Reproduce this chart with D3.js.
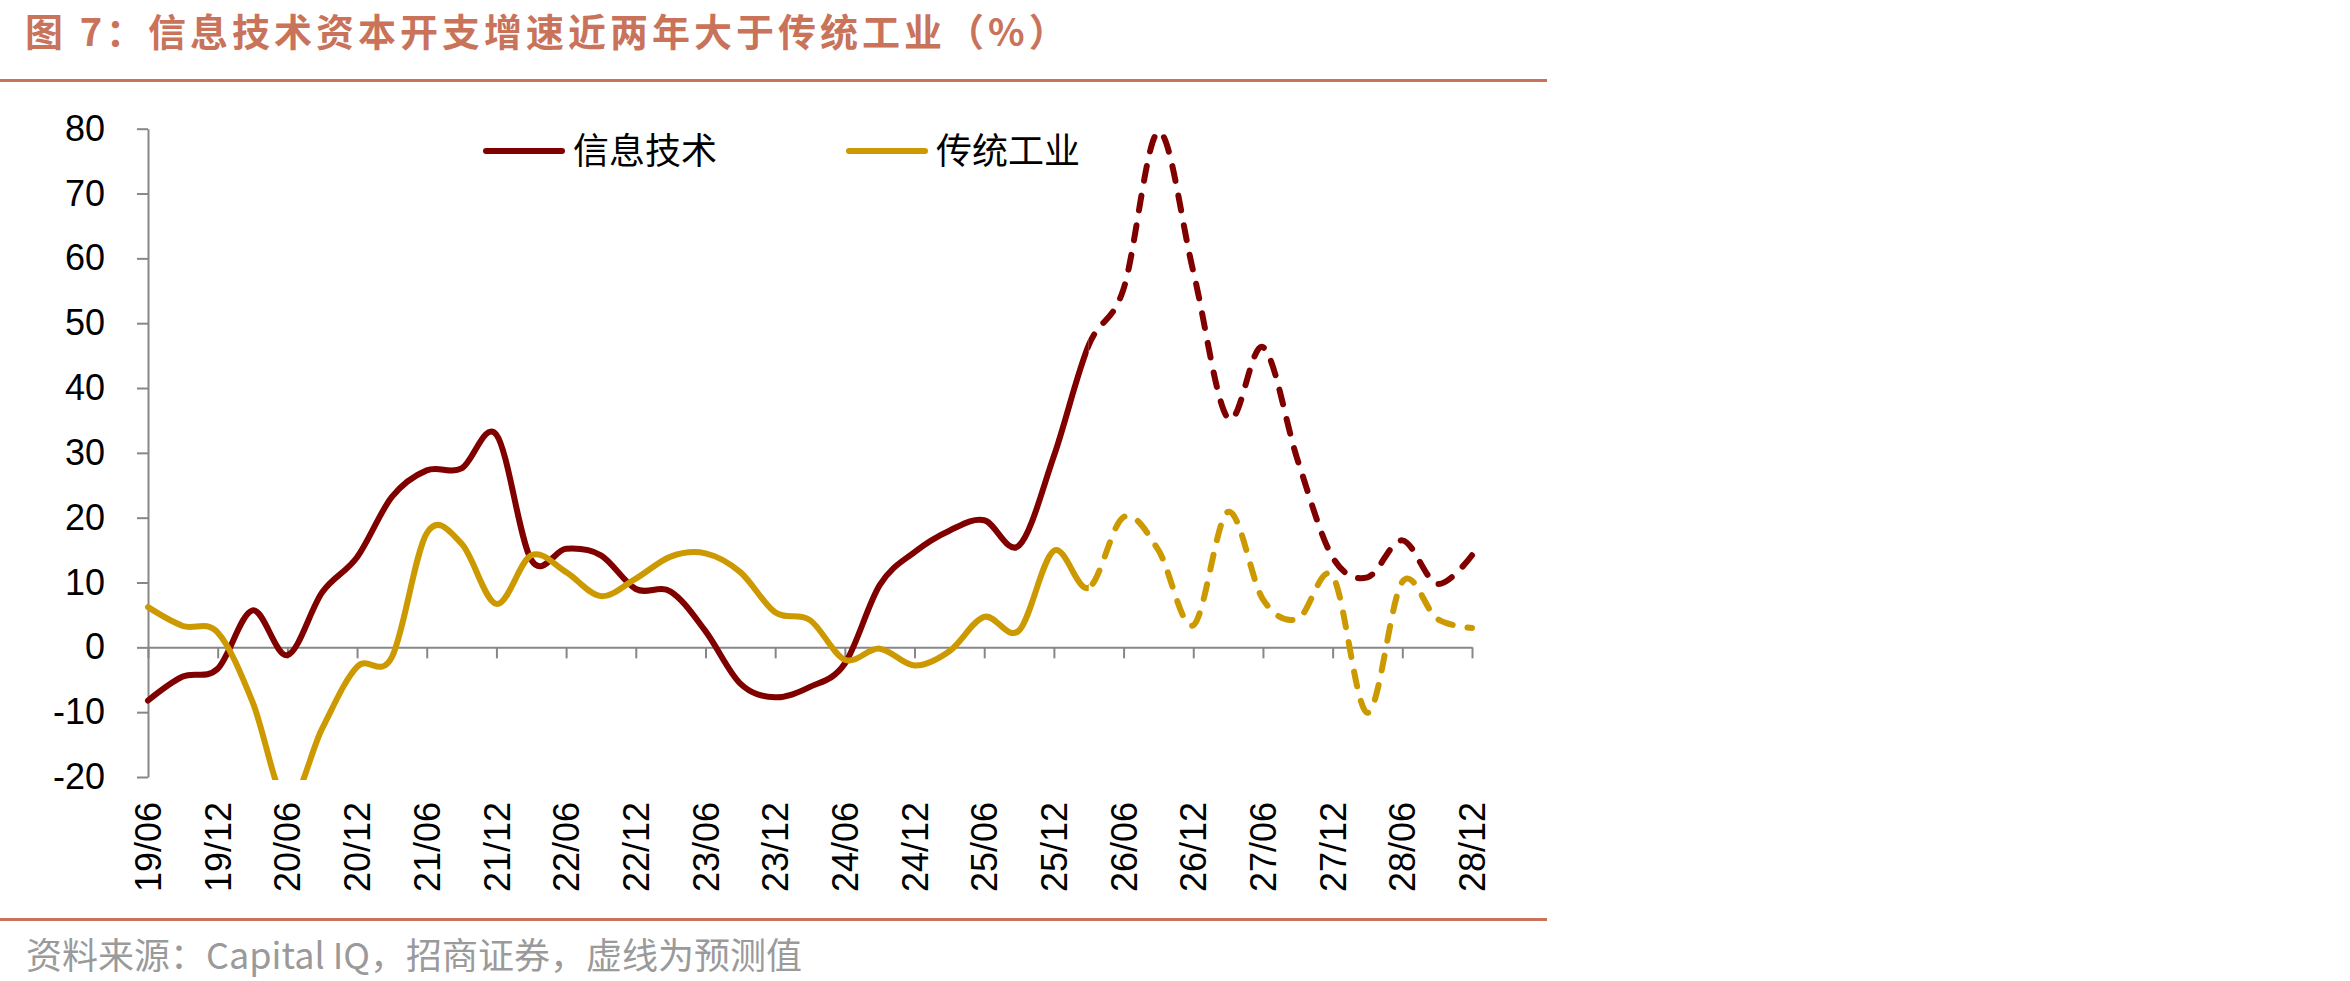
<!DOCTYPE html>
<html>
<head>
<meta charset="utf-8">
<script src="https://cdn.jsdelivr.net/npm/d3@7"></script>
<style>
  body { margin: 0; background: #fff; }
  svg { display: block; }
</style>
</head>
<body>
<div id="chart"></div>
<script>
const width = 2350;
const height = 981;

// quarterly points, 19/06 .. 28/12
const quarters = [
  "19/06","19/09","19/12","20/03","20/06","20/09","20/12","21/03","21/06","21/09",
  "21/12","22/03","22/06","22/09","22/12","23/03","23/06","23/09","23/12","24/03",
  "24/06","24/09","24/12","25/03","25/06","25/09","25/12","26/03","26/06","26/09",
  "26/12","27/03","27/06","27/09","27/12","28/03","28/06","28/09","28/12"
];

const itValues = [
  -8.2, -4.5, -3.3, 5.7, -1.2, 8.5, 13.9, 23.2, 27.3, 27.6,
  32.8, 13.5, 15.2, 14.2, 9.0, 8.6, 2.5, -5.6, -7.7, -6.1,
  -2.5, 9.6, 14.7, 18.0, 19.6, 15.7, 29.5, 46.6, 55.3, 79.5,
  58.0, 35.3, 46.3, 28.8, 13.9, 10.8, 16.5, 9.8, 14.2
];

const industryValues = [
  6.2, 3.3, 2.3, -8.4, -24.0, -12.5, -3.0, -1.5, 17.6, 16.0,
  6.7, 14.2, 11.6, 7.9, 10.6, 14.0, 14.5, 11.6, 5.4, 4.2,
  -1.9, -0.2, -2.8, -0.6, 4.7, 2.6, 14.9, 9.2, 20.1, 15.0,
  3.4, 20.9, 7.4, 4.4, 11.0, -10.1, 10.1, 4.4, 3.0
];

const seriesNames = ["信息技术", "传统工业"];
const forecastFrom = "26/03";   // dashed from here on
const yTicks = [-20, -10, 0, 10, 20, 30, 40, 50, 60, 70, 80];

const titleText = "图 7：信息技术资本开支增速近两年大于传统工业（%）";
const sourceText = "资料来源：Capital IQ，招商证券，虚线为预测值";

const series = [
  { name: seriesNames[0], values: itValues },
  { name: seriesNames[1], values: industryValues }
];

const color = d3.scaleOrdinal()
  .domain(seriesNames)
  .range(["#800000", "#CC9900"]);

const accent = "#C8735A";
const axisColor = "#878787";
const latinFont = "'Liberation Sans', Arial, sans-serif";
const cjkFont = "'Noto Sans CJK SC', sans-serif";

const svg = d3.select("#chart")
  .append("svg")
  .attr("width", width)
  .attr("height", height)
  .style("background", "#fff");

const x = d3.scalePoint()
  .domain(quarters)
  .range([148, 1472]);

const y = d3.scaleLinear()
  .domain([-20, 80])
  .range([777, 128.7]);

// title + rules
svg.append("text")
  .attr("x", 25)
  .attr("y", 46)
  .attr("fill", accent)
  .attr("font-family", cjkFont)
  .attr("font-weight", 700)
  .attr("font-size", 38)
  .attr("letter-spacing", 4)
  .text(titleText);

svg.append("rect")
  .attr("x", 0).attr("y", 79)
  .attr("width", 1547).attr("height", 3)
  .attr("fill", accent);

svg.append("rect")
  .attr("x", 0).attr("y", 918)
  .attr("width", 1547).attr("height", 3)
  .attr("fill", accent);

svg.append("text")
  .attr("x", 26)
  .attr("y", 969)
  .attr("fill", "#9a9a9a")
  .attr("font-family", cjkFont)
  .attr("font-size", 36)
  .text(sourceText);

// axes
const yAxis = d3.axisLeft(y)
  .tickValues(yTicks)
  .tickFormat(d => String(d))
  .tickSize(11)
  .tickSizeOuter(0)
  .tickPadding(32);

const yG = svg.append("g")
  .attr("transform", `translate(${x.range()[0]},0)`)
  .call(yAxis);

yG.selectAll("text")
  .attr("font-family", latinFont)
  .attr("font-size", 36)
  .attr("fill", "#000");

const xAxis = d3.axisBottom(x)
  .tickValues(quarters.filter(q => q.endsWith("/06") || q.endsWith("/12")))
  .tickSize(11)
  .tickSizeOuter(0);

const xG = svg.append("g")
  .attr("transform", `translate(0,${y(0)})`)
  .call(xAxis);

xG.selectAll("text")
  .attr("font-family", latinFont)
  .attr("font-size", 36)
  .attr("fill", "#000")
  .attr("text-anchor", "end")
  .attr("transform", `translate(0,${802 - y(0)}) rotate(-90)`)
  .attr("x", 0)
  .attr("y", 0)
  .attr("dy", "0.35em");

[yG, xG].forEach(g => {
  g.selectAll(".domain, .tick line")
    .attr("stroke", axisColor)
    .attr("stroke-width", 2);
});

// clip areas: actual (solid) vs forecast (dashed)
const defs = svg.append("defs");
const splitX = x(forecastFrom);
const clipTop = y(80) - 4;
const clipBottom = y(-20) + 3;

defs.append("clipPath").attr("id", "clip-actual")
  .append("rect")
  .attr("x", 0).attr("y", clipTop)
  .attr("width", splitX).attr("height", clipBottom - clipTop);

defs.append("clipPath").attr("id", "clip-forecast")
  .append("rect")
  .attr("x", splitX).attr("y", clipTop)
  .attr("width", width - splitX).attr("height", clipBottom - clipTop);

const line = d3.line()
  .x((d, i) => x(quarters[i]))
  .y(d => y(d))
  .curve(d3.curveCardinal.tension(0));

series.forEach(s => {
  svg.append("path")
    .datum(s.values)
    .attr("d", line)
    .attr("fill", "none")
    .attr("stroke", color(s.name))
    .attr("stroke-width", 6)
    .attr("stroke-linejoin", "round")
    .attr("stroke-linecap", "round")
    .attr("clip-path", "url(#clip-actual)");

  svg.append("path")
    .datum(s.values)
    .attr("d", line)
    .attr("fill", "none")
    .attr("stroke", color(s.name))
    .attr("stroke-width", 6)
    .attr("stroke-linecap", "round")
    .attr("stroke-dasharray", "15,15")
    .attr("clip-path", "url(#clip-forecast)");
});

// legend
const legend = svg.append("g");

seriesNames.forEach((name, i) => {
  const lx = 486 + i * 363;
  legend.append("line")
    .attr("x1", lx).attr("x2", lx + 76)
    .attr("y1", 151).attr("y2", 151)
    .attr("stroke", color(name))
    .attr("stroke-width", 6)
    .attr("stroke-linecap", "round");

  legend.append("text")
    .attr("x", lx + 87)
    .attr("y", 164)
    .attr("font-family", cjkFont)
    .attr("font-size", 36)
    .attr("fill", "#000")
    .text(name);
});
</script>
</body>
</html>
